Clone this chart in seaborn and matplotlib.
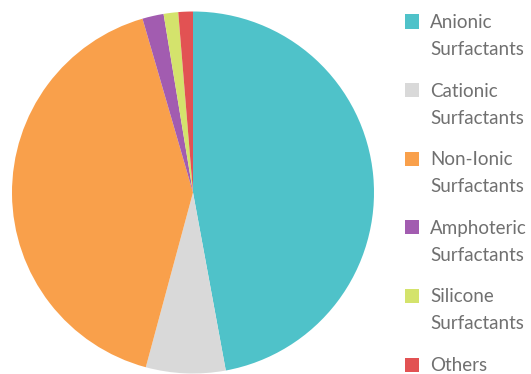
import matplotlib
matplotlib.use("Agg")
import matplotlib.pyplot as plt
import seaborn as sns
from matplotlib.patches import Rectangle

# Market share of surfactant types (%)
categories = [
    "Anionic\nSurfactants",
    "Cationic\nSurfactants",
    "Non-Ionic\nSurfactants",
    "Amphoteric\nSurfactants",
    "Silicone\nSurfactants",
    "Others",
]
shares = [47.1, 7.1, 41.3, 1.9, 1.3, 1.3]
colors = ["#4FC2C9", "#D9D9D9", "#F9A04B", "#A25CB0", "#D4E36C", "#E25253"]

sns.set_theme(style="white")
plt.rcParams["font.family"] = ["Lato", "DejaVu Sans"]

W, H = 531, 374
fig = plt.figure(figsize=(W / 100, H / 100), dpi=100)
fig.patch.set_facecolor("white")

# pie area: centre (193, 192.5) px, radius 181 px
cx, cy, r = 193, 192.5, 181
ax = fig.add_axes([(cx - r) / W, (H - cy - r) / H, 2 * r / W, 2 * r / H])
ax.pie(shares, colors=colors, startangle=90, counterclock=False,
       wedgeprops=dict(linewidth=0), radius=1)
ax.set_xlim(-1, 1)
ax.set_ylim(-1, 1)
ax.set_aspect("equal")
ax.axis("off")

# legend: square marker plus one or two lines of text per entry
step = 68.6
for i, (label, col) in enumerate(zip(categories, colors)):
    cap_top = 14.5 + i * step
    fig.patches.append(Rectangle((405 / W, 1 - (cap_top + 14) / H), 14 / W, 14 / H,
                                 transform=fig.transFigure, facecolor=col,
                                 edgecolor="none"))
    for j, line in enumerate(label.split("\n")):
        base = cap_top + 13.5 + j * 27
        fig.text(430 / W, 1 - base / H, line, ha="left", va="baseline",
                 fontsize=13.5, color="#707070", fontweight="normal")

fig.savefig("out.png", dpi=100, facecolor="white")
